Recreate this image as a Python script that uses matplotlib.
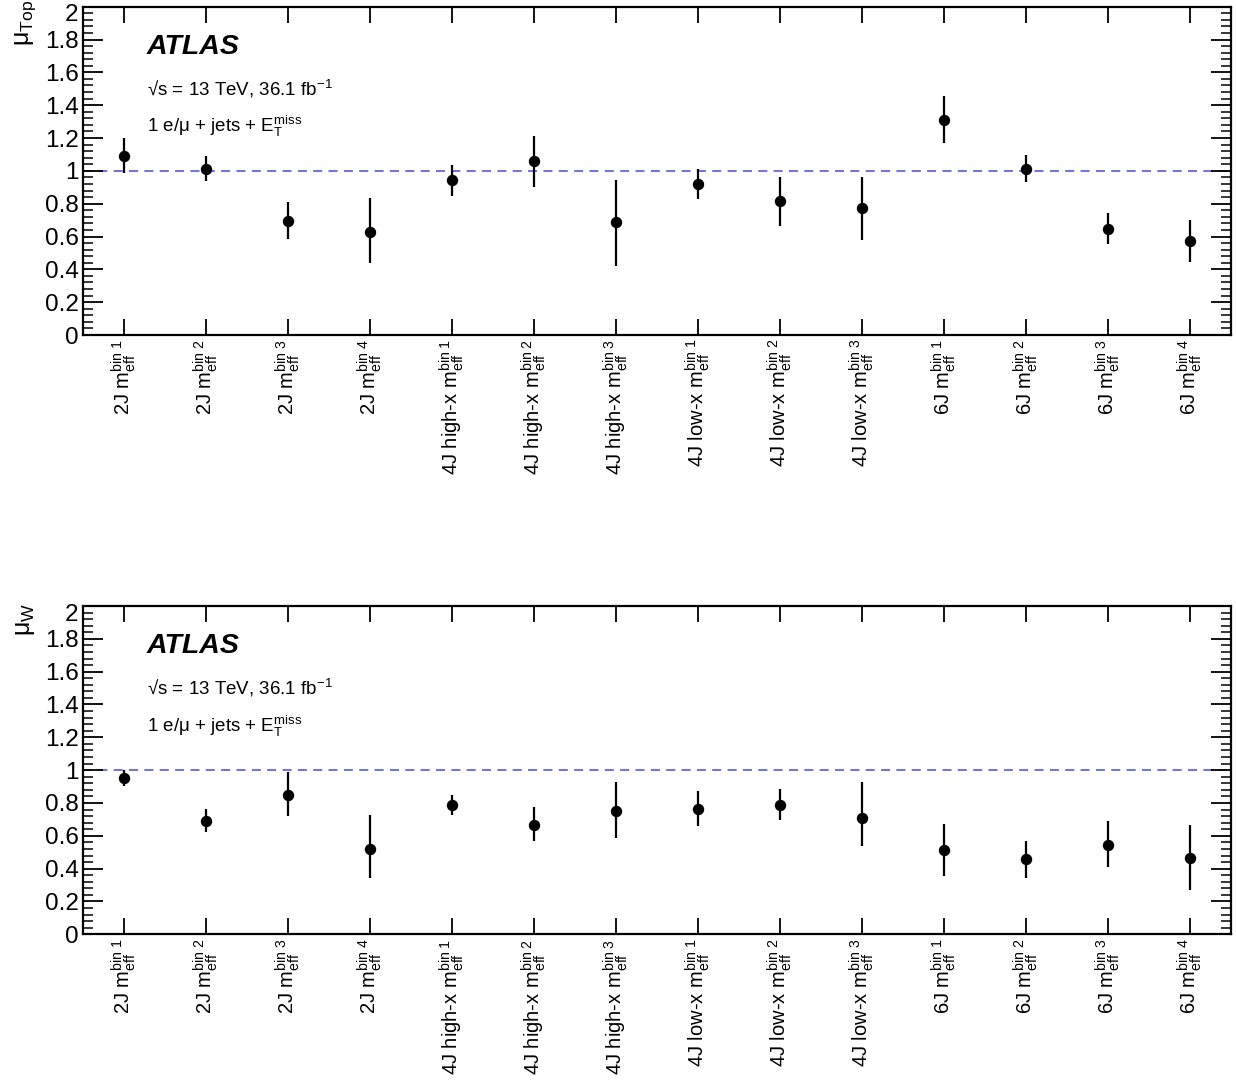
import matplotlib
matplotlib.use('Agg')
import matplotlib.pyplot as plt
import matplotlib.transforms as mtransforms
from matplotlib.ticker import MultipleLocator, FuncFormatter, FixedLocator, NullLocator
import numpy as np

plt.rcParams['font.family'] = ['Liberation Sans', 'DejaVu Sans']
plt.rcParams['mathtext.fontset'] = 'custom'
plt.rcParams['mathtext.rm'] = 'Liberation Sans'
plt.rcParams['mathtext.it'] = 'Liberation Sans:italic'
plt.rcParams['mathtext.bf'] = 'Liberation Sans:bold'

# ---- data ----
regions = ['2J', '2J', '2J', '2J',
           '4J high-x', '4J high-x', '4J high-x',
           '4J low-x', '4J low-x', '4J low-x',
           '6J', '6J', '6J', '6J']
bins = [1, 2, 3, 4, 1, 2, 3, 1, 2, 3, 1, 2, 3, 4]

mu_top = [1.093, 1.012, 0.695, 0.630, 0.942, 1.057, 0.689,
          0.921, 0.817, 0.773, 1.311, 1.012, 0.648, 0.573]
mu_top_up = [0.107, 0.081, 0.116, 0.207, 0.091, 0.156, 0.256,
             0.091, 0.146, 0.190, 0.146, 0.085, 0.094, 0.126]
mu_top_dn = [0.106, 0.075, 0.108, 0.189, 0.094, 0.153, 0.268,
             0.092, 0.152, 0.193, 0.142, 0.081, 0.091, 0.126]

mu_w = [0.953, 0.692, 0.851, 0.517, 0.790, 0.668, 0.749,
        0.766, 0.786, 0.709, 0.515, 0.458, 0.546, 0.462]
mu_w_up = [0.051, 0.074, 0.137, 0.210, 0.061, 0.110, 0.180,
           0.104, 0.098, 0.220, 0.157, 0.112, 0.144, 0.204]
mu_w_dn = [0.051, 0.071, 0.132, 0.175, 0.061, 0.102, 0.162,
           0.104, 0.091, 0.173, 0.157, 0.112, 0.133, 0.193]

ylabels = ['\u03bc$_{\\rm Top}$', '\u03bc$_{\\rm W}$']
atlas_text = 'ATLAS'
energy_text = '\u221as = 13 TeV, 36.1 fb$^{-1}$'
channel_text = '1 e/\u03bc + jets + $\\mathrm{E}_{\\rm T}^{\\rm miss}$'

cat_labels = [f'{r} $\\mathrm{{m}}_{{\\rm eff}}^{{\\rm bin\\ {b}}}$' for r, b in zip(regions, bins)]

fig = plt.figure(figsize=(12.36, 10.81), dpi=100)
L, R = 0.0669, 0.9960
ax_top = fig.add_axes([L, 0.6901, R - L, 0.9938 - 0.6901])
ax_bot = fig.add_axes([L, 0.1357, R - L, 0.4394 - 0.1357])

x = np.arange(len(regions))
panels = [(ax_top, mu_top, mu_top_up, mu_top_dn, ylabels[0], 1.02),
          (ax_bot, mu_w, mu_w_up, mu_w_dn, ylabels[1], 1.01)]

for ax, vals, up, dn, ylab, ylab_y in panels:
    ax.axhline(1.0, color='#6464e6', lw=1.3, ls=(0, (5.0, 3.5)), zorder=1)
    ax.errorbar(x, vals, yerr=[dn, up], fmt='o', color='black', ms=7.2,
                elinewidth=1.6, capsize=0, zorder=3)
    ax.set_xlim(-0.5, len(regions) - 0.5)
    ax.set_ylim(0, 2)
    ax.xaxis.set_major_locator(FixedLocator(x))
    ax.xaxis.set_minor_locator(NullLocator())
    ax.set_xticklabels(cat_labels, rotation=90, fontsize=14.5)
    ax.yaxis.set_major_locator(MultipleLocator(0.2))
    ax.yaxis.set_minor_locator(MultipleLocator(0.04))
    ax.yaxis.set_major_formatter(FuncFormatter(lambda v, p: f'{v:g}'))
    ax.tick_params(axis='y', which='major', direction='in', length=14.5, width=1.3,
                   left=True, right=True, labelsize=17.5, pad=3)
    ax.tick_params(axis='y', which='minor', direction='in', length=7.5, width=1.1,
                   left=True, right=True)
    ax.tick_params(axis='x', which='major', direction='in', length=11.5, width=1.3,
                   bottom=True, top=True, pad=3)
    for s in ax.spines.values():
        s.set_linewidth(1.6)
    ax.text(-0.05, ylab_y, ylab, rotation=90, ha='center', va='top',
            transform=ax.transAxes, fontsize=18)
    ax.text(0.0557, 0.856, atlas_text, transform=ax.transAxes, fontsize=20.5,
            fontweight='bold', fontstyle='italic', ha='left', va='baseline')
    ax.text(0.0557, 0.729, energy_text, transform=ax.transAxes, fontsize=13.5,
            ha='left', va='baseline')
    ax.text(0.0557, 0.617, channel_text, transform=ax.transAxes, fontsize=13.5,
            ha='left', va='baseline')

# shift the topmost y tick label ("2") slightly down so it stays inside the canvas
fig.canvas.draw()
for ax in (ax_top, ax_bot):
    ticks = ax.yaxis.get_major_ticks()
    locs = ax.yaxis.get_majorticklocs()
    for t, loc in zip(ticks, locs):
        if abs(loc - 2.0) < 1e-6:
            lab = t.label1
            lab.set_transform(lab.get_transform() +
                              mtransforms.ScaledTranslation(0, -4.5 / 72, fig.dpi_scale_trans))

fig.savefig('out.png', dpi=100)
